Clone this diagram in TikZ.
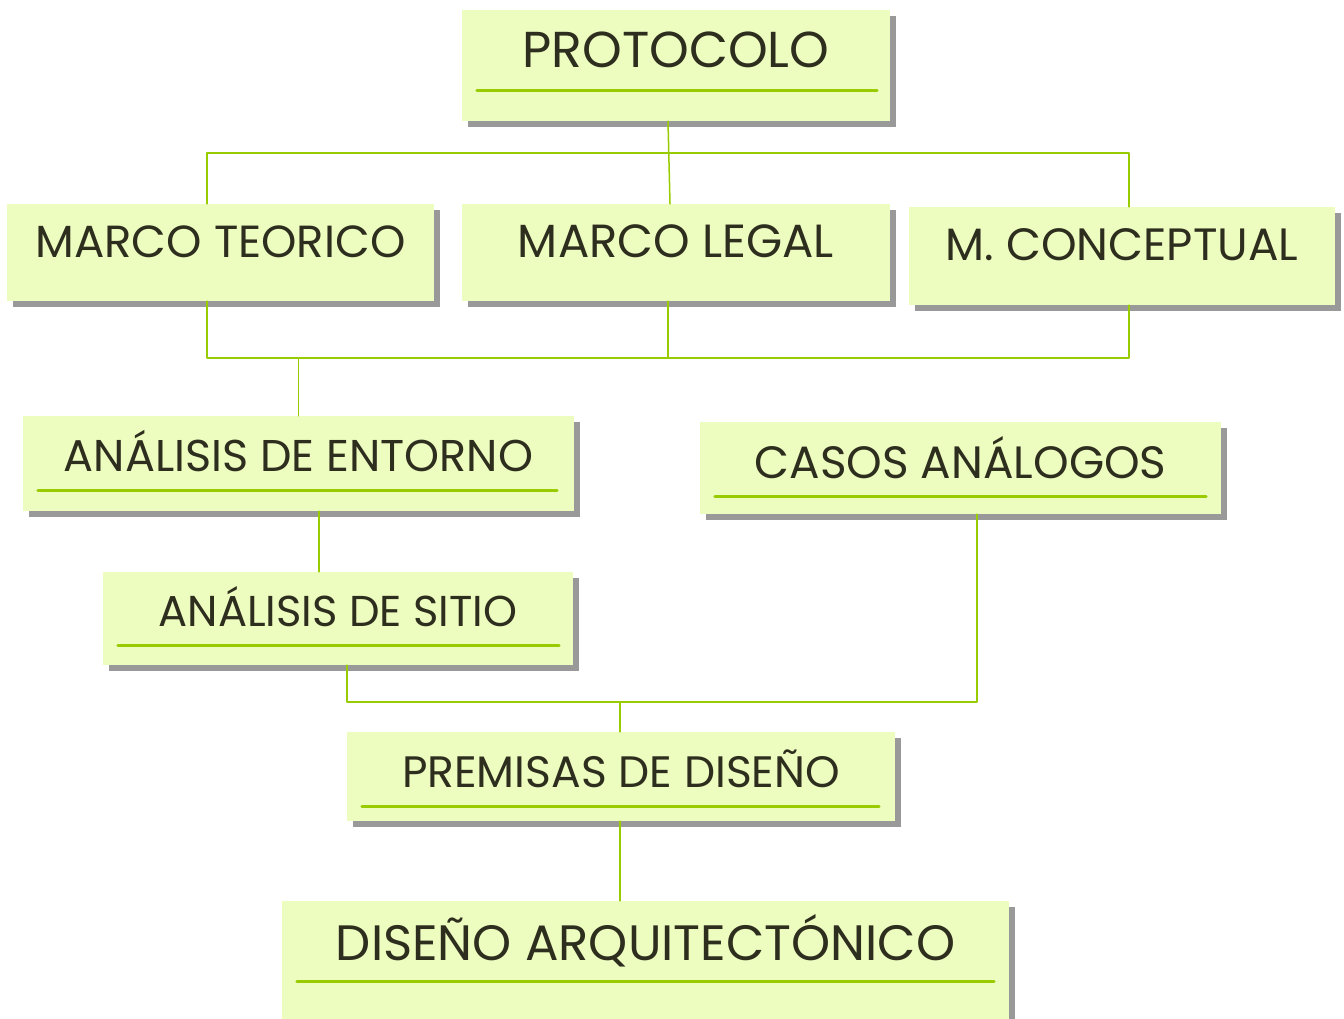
\documentclass[tikz,border=0pt]{standalone}
\usepackage{fontspec}
\setmainfont{Poppins}
\usetikzlibrary{shadows}
\definecolor{verdefondo}{rgb}{0.93,0.99,0.75}
\definecolor{verdelinea}{rgb}{0.6,0.8,0}
\definecolor{grissombra}{rgb}{0.6,0.6,0.6}
\definecolor{textoosc}{rgb}{0.18,0.18,0.12}
\tikzset{
  caja/.style={rectangle,fill=verdefondo,inner sep=0pt,
    drop shadow={shadow xshift=6pt,shadow yshift=-6pt,fill=grissombra,opacity=1}},
  texto/.style={anchor=base,inner sep=0pt,text=textoosc,
    font=\fontsize{#1}{50}\selectfont},
  texto/.default=44,
  subrayado/.style={draw=verdelinea,line width=3pt},
  conector/.style={draw=verdelinea,line width=1.5pt}
}
\begin{document}
\begin{tikzpicture}[x=1pt,y=-1pt,line cap=round,line join=round]
\useasboundingbox (0,0) rectangle (1344,1019);
% conectores
\coordinate (union1) at (668,358);
% cajas
\node[caja,minimum width=428pt,minimum height=111pt] (protocolo) at (676,65.5) {};
\node[caja,minimum width=427pt,minimum height=97pt] (mteorico) at (220.5,252.5) {};
\node[caja,minimum width=428pt,minimum height=97pt] (mlegal) at (676,252.5) {};
\node[caja,minimum width=426pt,minimum height=98pt] (mconceptual) at (1122,256) {};
\node[caja,minimum width=551pt,minimum height=95pt] (entorno) at (298.5,463.5) {};
\node[caja,minimum width=521pt,minimum height=92pt] (casos) at (960.5,468) {};
\node[caja,minimum width=470pt,minimum height=93pt] (sitio) at (338,618.5) {};
\node[caja,minimum width=548pt,minimum height=89pt] (premisas) at (621,776.5) {};
\node[caja,minimum width=727pt,minimum height=122pt] (diseno) at (645.5,962) {};
% subrayados
\draw[subrayado] ([shift={(15,-31)}]protocolo.south west) -- ([shift={(-13,-31)}]protocolo.south east);
\draw[subrayado] ([shift={(15,-21)}]entorno.south west) -- ([shift={(-17,-21)}]entorno.south east);
\draw[subrayado] ([shift={(15,-18)}]casos.south west) -- ([shift={(-15,-18)}]casos.south east);
\draw[subrayado] ([shift={(15,-20)}]sitio.south west) -- ([shift={(-14,-20)}]sitio.south east);
\draw[subrayado] ([shift={(15,-15)}]premisas.south west) -- ([shift={(-16,-15)}]premisas.south east);
\draw[subrayado] ([shift={(15,-42)}]diseno.south west) -- ([shift={(-15,-42)}]diseno.south east);
% textos
\node[texto=50.5] (tprotocolo) at (protocolo.center |- 0,68) {PROTOCOLO};
\node[texto=45] (tmteorico) at (mteorico.center |- 0,258) {MARCO TEORICO};
\node[texto=46.5] (tmlegal) at (mlegal.center |- 0,258) {MARCO LEGAL};
\node[texto=45.3] (tmconceptual) at (mconceptual.center |- 0,261) {M. CONCEPTUAL};
\node[texto=44.5] (tentorno) at (entorno.center |- 0,471) {ANÁLISIS DE ENTORNO};
\node[texto=45.3] (tcasos) at (casos.center |- 0,478) {CASOS ANÁLOGOS};
\node[texto=43.2] (tsitio) at (sitio.center |- 0,626) {ANÁLISIS DE SITIO};
\node[texto=44] (tpremisas) at (premisas.center |- 0,787) {PREMISAS DE DISEÑO};
\node[texto=49.7] (tdiseno) at (diseno.center |- 0,960) {DISEÑO ARQUITECTÓNICO};
% lineas
\draw[conector] ([xshift=-8pt]protocolo.south) -- ([xshift=-6pt]mlegal.north);
\draw[conector] ([xshift=-13.5pt]mteorico.north) -- ++(0,-51) -| ([xshift=7pt]mconceptual.north);
\draw[conector] ([xshift=-13.5pt]mteorico.south) -- ++(0,57) -| ([xshift=7pt]mconceptual.south);
\draw[conector] ([xshift=-8pt]mlegal.south) -- (union1);
\draw[conector] (entorno.north) -- (entorno.north |- union1);
\draw[conector] ([xshift=20.5pt]entorno.south) -- ([xshift=20.5pt]entorno.south |- sitio.north);
\draw[conector] ([xshift=9pt]sitio.south) -- ++(0,37) -| ([xshift=16.5pt]casos.south);
\draw[conector] ([xshift=-1pt]premisas.north) -- ++(0,-30);
\draw[conector] ([xshift=-1pt]premisas.south) -- ([xshift=-1pt]premisas.south |- diseno.north);
\end{tikzpicture}
\end{document}
